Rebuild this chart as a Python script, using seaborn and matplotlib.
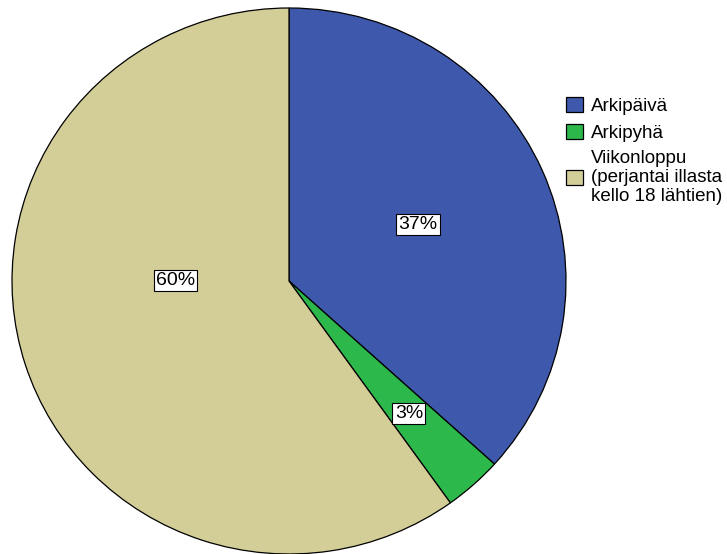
import numpy as np
import matplotlib
matplotlib.use("Agg")
import matplotlib.pyplot as plt
import seaborn as sns

categories = ["Arkipäivä", "Arkipyhä", "Viikonloppu\n(perjantai illasta\nkello 18 lähtien)"]
values = [36.7, 3.4, 59.9]
pct_labels = ["37%", "3%", "60%"]
colors = ["#3E58AC", "#2DB84B", "#D3CE97"]

sns.set_theme(style="white")
plt.rcParams["font.family"] = ["Liberation Sans", "DejaVu Sans"]
plt.rcParams["text.color"] = "black"

fig = plt.figure(figsize=(7.27, 5.54), dpi=100)
ax = fig.add_axes([12 / 727, 0.0, 554 / 727, 546 / 554])

wedges, _ = ax.pie(values, colors=colors, startangle=90, counterclock=False,
                   wedgeprops=dict(edgecolor="black", linewidth=0.9))
ax.set_xlim(-1, 1)
ax.set_ylim(-1, 1)
ax.set_aspect("auto")
ax.axis("off")

# label placement: radius fraction and angular offset (degrees) per wedge
label_r = [0.51, 0.65, 0.41]
label_off = [0, 0, -18]
for w, txt, r, off in zip(wedges, pct_labels, label_r, label_off):
    mid = np.deg2rad((w.theta1 + w.theta2) / 2 + off)
    ax.text(r * np.cos(mid), r * np.sin(mid), txt, ha="center", va="center",
            fontsize=14, color="black",
            bbox=dict(boxstyle="square,pad=0.12", facecolor="white",
                      edgecolor="black", linewidth=0.8))

leg = fig.legend(wedges, categories, loc="upper left",
                 bbox_to_anchor=(566 / 727, 1 - 97 / 554),
                 frameon=False, fontsize=13.5, handlelength=0.88, handleheight=0.88,
                 handletextpad=0.45, labelspacing=0.45, borderpad=0, borderaxespad=0,
                 labelcolor="black")
for t in leg.get_texts():
    t.set_linespacing(1.13)

fig.savefig("out.png", dpi=100, facecolor="white")
